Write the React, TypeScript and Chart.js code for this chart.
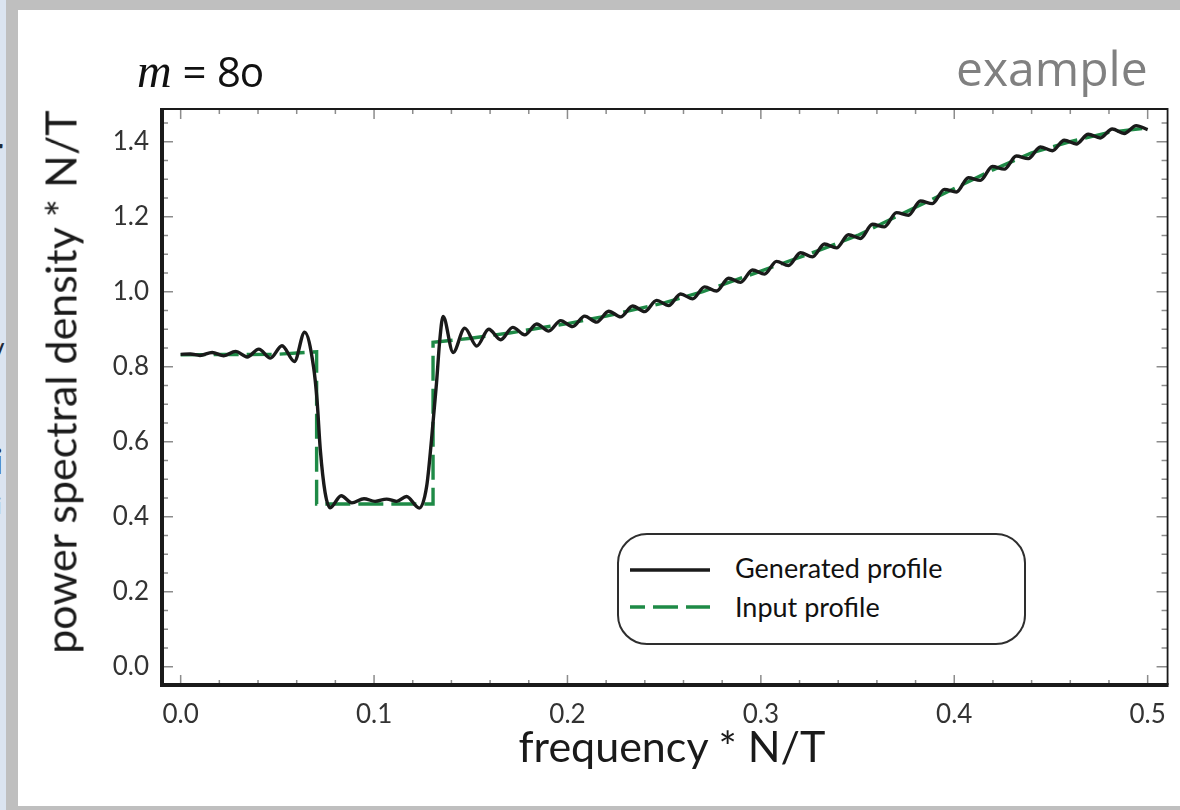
import React, { useEffect, useRef } from "react";
import { Chart, registerables } from "chart.js";

Chart.register(...registerables);

// ---------- texts ----------
const GEN_LABEL = "Generated profile";
const INPUT_LABEL = "Input profile";
const X_TITLE = "frequency * N/T";
const Y_TITLE = "power spectral density * N/T";
const TITLE_VAR = "m";
const TITLE_REST = " = 80";
const CORNER_TEXT = "example";

// ---------- axes ----------
const X_TICKS = [0, 0.1, 0.2, 0.3, 0.4, 0.5];
const Y_TICKS = [0, 0.2, 0.4, 0.6, 0.8, 1.0, 1.2, 1.4];
const X_MINOR_STEP = 0.02;
const Y_MINOR_STEP = 0.05;
const X_MIN = -0.00965;
const X_MAX = 0.5103;
const Y_MIN = -0.0488;
const Y_MAX = 1.4872;

// ---------- data ----------
const INPUT_X = [0, 0.05, 0.0703, 0.0703, 0.1305, 0.1305, 0.15, 0.17, 0.2, 0.22, 0.25, 0.27, 0.3, 0.33, 0.35, 0.38, 0.4, 0.42, 0.44, 0.46, 0.48, 0.5];
const INPUT_Y = [0.832, 0.833, 0.84, 0.434, 0.434, 0.865, 0.876, 0.89, 0.915, 0.935, 0.97, 1.0, 1.055, 1.11, 1.15, 1.225, 1.275, 1.325, 1.37, 1.4, 1.425, 1.437];

const GEN_X = [
  0, 0.005, 0.010, 0.0163, 0.0223, 0.0284, 0.0344, 0.0404, 0.0464, 0.0524, 0.0588, 0.0641,
  0.0687, 0.0705, 0.0722, 0.0747, 0.0773,
  0.0830, 0.0885, 0.0948, 0.1005, 0.1065, 0.1117, 0.1168, 0.1234,
  0.1272, 0.1297, 0.1323, 0.1340, 0.1357, 0.1409, 0.1469,
  0.1531, 0.1593, 0.1655, 0.1717, 0.1779, 0.1841, 0.1903, 0.1965, 0.2027, 0.2089,
  0.2151, 0.2213, 0.2275, 0.2337, 0.2399, 0.2461, 0.2523, 0.2585, 0.2647, 0.2709,
  0.2771, 0.2833, 0.2895, 0.2957, 0.3019, 0.3081, 0.3143, 0.3205, 0.3267, 0.3329,
  0.3391, 0.3453, 0.3515, 0.3577, 0.3639, 0.3701, 0.3763, 0.3825, 0.3887, 0.3949,
  0.4011, 0.4073, 0.4135, 0.4197, 0.4259, 0.4321, 0.4383, 0.4445, 0.4507, 0.4569,
  0.4631, 0.4693, 0.4755, 0.4817, 0.4879, 0.4941, 0.5,
];
const GEN_Y = [
  0.833, 0.834, 0.830, 0.838, 0.829, 0.841, 0.826, 0.847, 0.823, 0.856, 0.814, 0.892,
  0.800, 0.712, 0.579, 0.464, 0.424,
  0.456, 0.437, 0.448, 0.441, 0.447, 0.441, 0.454, 0.423,
  0.481, 0.605, 0.757, 0.872, 0.934, 0.838, 0.903,
  0.855, 0.900, 0.872, 0.905, 0.885, 0.914, 0.895, 0.923, 0.907, 0.935,
  0.919, 0.948, 0.933, 0.962, 0.947, 0.977, 0.963, 0.994, 0.981, 1.013,
  1.002, 1.036, 1.025, 1.058, 1.047, 1.081, 1.070, 1.104, 1.093, 1.127,
  1.117, 1.152, 1.142, 1.180, 1.173, 1.211, 1.204, 1.242, 1.235, 1.273,
  1.266, 1.304, 1.297, 1.334, 1.327, 1.362, 1.355, 1.386, 1.376, 1.404,
  1.394, 1.420, 1.410, 1.434, 1.422, 1.443, 1.432,
];

// ---------- styles ----------
const BLACK = "#1a1a1a";
const GREEN = "#1e8a46";
const DASH = [25, 8];
const TICK_COLOR = "#8c8c8c";
const LABEL_COLOR = "#333333";
const SANS = "Lato, 'Noto Sans', sans-serif";

export default function App() {
  const ref = useRef<HTMLCanvasElement>(null);

  useEffect(() => {
    const canvas = ref.current;
    if (!canvas) return;

    const framePlugin = {
      id: "frameTicks",
      beforeDatasetsDraw(chart: any) {
        const { ctx, chartArea } = chart;
        const { left, right, top, bottom } = chartArea;
        const xs = chart.scales.x;
        const ys = chart.scales.y;
        ctx.save();
        ctx.strokeStyle = TICK_COLOR;
        ctx.lineWidth = 1.5;
        ctx.beginPath();
        const nx = Math.round(0.5 / X_MINOR_STEP);
        for (let i = 0; i <= nx; i++) {
          const px = xs.getPixelForValue(i * X_MINOR_STEP);
          const len = i % 5 === 0 ? 10 : 5;
          ctx.moveTo(px, bottom);
          ctx.lineTo(px, bottom - len);
          ctx.moveTo(px, top);
          ctx.lineTo(px, top + len);
        }
        const ny = Math.floor(Y_MAX / Y_MINOR_STEP);
        for (let i = 0; i <= ny; i++) {
          const py = ys.getPixelForValue(i * Y_MINOR_STEP);
          const len = i % 4 === 0 ? 11 : 6;
          ctx.moveTo(left, py);
          ctx.lineTo(left + len, py);
          ctx.moveTo(right, py);
          ctx.lineTo(right - len, py);
        }
        ctx.stroke();
        ctx.restore();
      },
      afterDatasetsDraw(chart: any) {
        const { ctx, chartArea } = chart;
        const { left, right, top, bottom } = chartArea;
        ctx.save();
        ctx.strokeStyle = "#1a1a1a";
        ctx.lineWidth = 1.8;
        ctx.beginPath();
        ctx.moveTo(left, top);
        ctx.lineTo(right, top);
        ctx.lineTo(right, bottom);
        ctx.stroke();
        ctx.lineWidth = 4;
        ctx.beginPath();
        ctx.moveTo(left, top - 1);
        ctx.lineTo(left, bottom);
        ctx.lineTo(right + 1, bottom);
        ctx.stroke();
        ctx.restore();
      },
    };

    const chart = new Chart(canvas, {
      type: "line",
      data: {
        datasets: [
          {
            label: GEN_LABEL,
            data: GEN_X.map((x, i) => ({ x, y: GEN_Y[i] })),
            borderColor: BLACK,
            borderWidth: 3.4,
            pointRadius: 0,
            cubicInterpolationMode: "monotone",
            fill: false,
          },
          {
            label: INPUT_LABEL,
            data: INPUT_X.map((x, i) => ({ x, y: INPUT_Y[i] })),
            borderColor: GREEN,
            borderWidth: 3.4,
            borderDash: DASH,
            pointRadius: 0,
            tension: 0,
            fill: false,
          },
        ],
      },
      options: {
        animation: false,
        responsive: false,
        devicePixelRatio: 1,
        events: [],
        layout: { padding: { top: 99, right: 10, left: 0, bottom: 0 }, autoPadding: false },
        plugins: {
          legend: { display: false },
          tooltip: { enabled: false },
          title: { display: false },
        },
        scales: {
          x: {
            type: "linear",
            min: X_MIN,
            max: X_MAX,
            grid: { display: false, drawTicks: false },
            border: { display: false },
            afterBuildTicks: (s: any) => {
              s.ticks = X_TICKS.map((v) => ({ value: v }));
            },
            afterFit: (s: any) => {
              s.height = 121;
            },
            ticks: {
              padding: 14,
              autoSkip: false,
              maxRotation: 0,
              color: LABEL_COLOR,
              font: { family: SANS, size: 26 },
              callback: (v: any) => Number(v).toFixed(1),
            },
          },
          y: {
            type: "linear",
            min: Y_MIN,
            max: Y_MAX,
            grid: { display: false, drawTicks: false },
            border: { display: false },
            afterBuildTicks: (s: any) => {
              s.ticks = Y_TICKS.map((v) => ({ value: v }));
            },
            afterFit: (s: any) => {
              s.width = 144;
            },
            ticks: {
              padding: 13,
              autoSkip: false,
              color: LABEL_COLOR,
              font: { family: SANS, size: 26 },
              callback: (v: any) => Number(v).toFixed(1),
            },
          },
        },
      },
      plugins: [framePlugin],
    } as any);

    return () => chart.destroy();
  }, []);

  const abs = (s: React.CSSProperties): React.CSSProperties => ({ position: "absolute", whiteSpace: "nowrap", ...s });

  return (
    <div style={{ position: "fixed", left: 0, top: 0, width: 1180, height: 810, background: "#bfbfbf", overflow: "hidden" }}>
      {/* neighbouring slide strip */}
      <div style={abs({ left: 0, top: 0, width: 6, height: 810, background: "#dbe4f0", overflow: "hidden" })}>
        <span style={abs({ left: -10, top: 128, fontFamily: SANS, fontWeight: 700, fontSize: 34, color: "#1f2a38" })}>r</span>
        <span style={abs({ left: -8, top: 190, fontFamily: SANS, fontSize: 26, color: "#b0b0b0" })}>(</span>
        <span style={abs({ left: -10, top: 335, fontFamily: SANS, fontSize: 34, color: "#1f2a38" })}>/</span>
        <span style={abs({ left: -6, top: 440, fontFamily: SANS, fontWeight: 700, fontSize: 34, color: "#1f2a38" })}>i</span>
        <span style={abs({ left: -4, top: 490, fontFamily: SANS, fontSize: 24, color: "#888" })}>i</span>
      </div>
      {/* white slide panel */}
      <div style={abs({ left: 18, top: 10, width: 1162, height: 796, background: "#ffffff" })}>
        <canvas ref={ref} width={1162} height={796} style={{ width: 1162, height: 796, display: "block" }} />
      </div>

      {/* panel title */}
      <div style={abs({ left: 137, top: 47, lineHeight: 1, color: "#111" })}>
        <span style={{ fontFamily: "'Liberation Serif', 'DejaVu Serif', serif", fontStyle: "italic", fontSize: 48 }}>{TITLE_VAR}</span>
        <span style={{ fontFamily: "'Open Sans', sans-serif", fontSize: 42, fontVariantNumeric: "oldstyle-nums" }}>{TITLE_REST}</span>
      </div>
      <div style={abs({ left: 956, top: 44, lineHeight: 1, fontFamily: "'Open Sans', sans-serif", fontSize: 48, color: "#808080" })}>
        {CORNER_TEXT}
      </div>

      {/* axis titles */}
      <div
        style={abs({
          left: 60,
          top: 382,
          lineHeight: 1,
          fontFamily: SANS,
          fontSize: 43,
          color: "#1a1a1a",
          transform: "translate(-50%, -50%) rotate(-90deg)",
        })}
      >
        {Y_TITLE}
      </div>
      <div style={abs({ left: 672, top: 724, lineHeight: 1, fontFamily: SANS, fontSize: 43, color: "#1a1a1a", transform: "translateX(-50%)" })}>
        {X_TITLE}
      </div>

      {/* legend */}
      <div
        style={abs({
          left: 617,
          top: 533,
          width: 405,
          height: 108,
          border: "2px solid #2e2e2e",
          borderRadius: 30,
          background: "#ffffff",
        })}
      />
      <svg style={abs({ left: 0, top: 0, width: 1180, height: 810, pointerEvents: "none" })} width={1180} height={810}>
        <line x1={630} y1={570} x2={710} y2={570} stroke={BLACK} strokeWidth={3.5} />
        <line x1={630} y1={607} x2={710} y2={607} stroke={GREEN} strokeWidth={3.5} strokeDasharray={DASH.join(" ")} strokeDashoffset={10} />
      </svg>
      <div style={abs({ left: 735, top: 554, lineHeight: 1, fontFamily: SANS, fontSize: 27, color: "#111" })}>{GEN_LABEL}</div>
      <div style={abs({ left: 735, top: 593, lineHeight: 1, fontFamily: SANS, fontSize: 27, color: "#111" })}>{INPUT_LABEL}</div>
    </div>
  );
}
